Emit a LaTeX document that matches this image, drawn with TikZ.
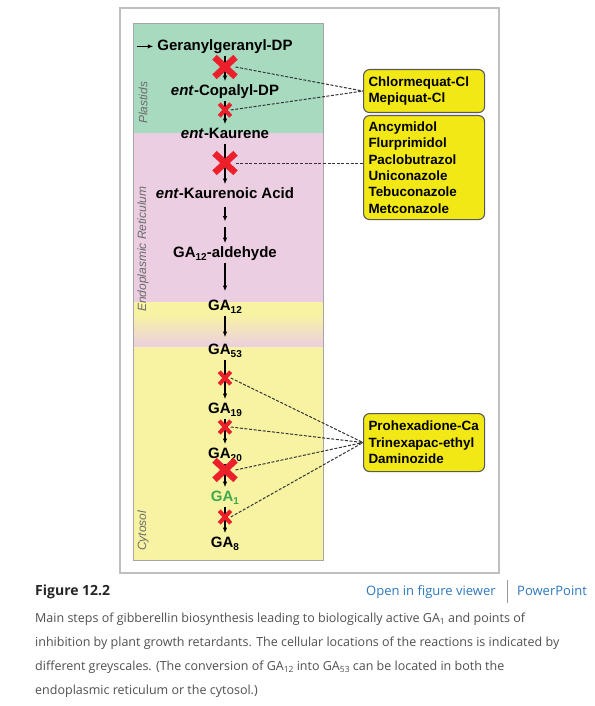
\documentclass[tikz,border=0pt]{standalone}
\usepackage{fontspec}
\setmainfont{Liberation Sans}
\newfontfamily\capfont{Open Sans}
\usetikzlibrary{arrows.meta,shapes.misc}
\definecolor{plastgreen}{RGB}{168,218,192}
\definecolor{erpink}{RGB}{236,206,226}
\definecolor{cytoyellow}{RGB}{248,243,162}
\definecolor{boxyellow}{RGB}{242,232,22}
\definecolor{blockred}{RGB}{235,32,42}
\definecolor{gagreen}{RGB}{62,168,76}
\definecolor{linkblue}{RGB}{45,120,190}
\definecolor{captext}{RGB}{80,80,80}
\newcommand\gasub[1]{\raisebox{-3pt}{\fontsize{10}{12}\selectfont #1}}
\newcommand\capsub[1]{\raisebox{-1.5pt}{\fontsize{8.5}{9}\selectfont #1}}
\tikzset{
  compound/.style={font=\fontsize{15}{18}\selectfont\bfseries, inner sep=0pt, text height=11pt, text depth=3pt, anchor=base},
  conv/.style={-{Latex[length=5.5pt,width=4.5pt]}, line width=1.1pt, shorten <=2pt, shorten >=3pt},
  bigblock/.style={cross out, draw=blockred, line width=6.5pt, minimum width=14.5pt, minimum height=13pt, inner sep=0pt},
  smallblock/.style={cross out, draw=blockred, line width=4pt, minimum width=7.5pt, minimum height=8.5pt, inner sep=0pt},
  inhib/.style={dash pattern=on 3pt off 1.6pt, line width=1pt, draw=black!80},
  retardant/.style={draw=black!65, line width=1.1pt, fill=boxyellow, rounded corners=6pt, anchor=north west, minimum width=121pt, text width=111pt, inner xsep=5pt, align=left, font=\fontsize{13.4}{16.4}\selectfont\bfseries},
  compartment/.style={font=\fontsize{12}{14}\selectfont\itshape, text=black!58, rotate=90, anchor=west, inner sep=0pt},
  weblink/.style={anchor=base west, font=\capfont\fontsize{13}{15}\selectfont, text=linkblue, inner sep=0pt}
}
\begin{document}
\begin{tikzpicture}[x=1pt, y=-1pt]
\useasboundingbox (0,0) rectangle (594,706);
\fill[white] (0,0) rectangle (594,706);
\draw[black!25, line width=1.2pt] (120,8) rectangle (499,573);
\fill[plastgreen] (133,23) rectangle (323,133);
\fill[erpink] (133,133) rectangle (323,302);
\fill[cytoyellow] (133,302) rectangle (323,314);
\shade[top color=cytoyellow, bottom color=erpink] (133,314) rectangle (323,347);
\fill[cytoyellow] (133,347) rectangle (323,560);
\draw[black!35, line width=0.6pt] (133,23) rectangle (323,560);

\node[compartment] (plast) at (143,124) {Plastids};
\node[compartment] (er) at (143,312) {Endoplasmic Reticulum};
\node[compartment] (cyto) at (143,551) {Cytosol};

\node[compound] (ggdp) at (225,50.4) {Geranylgeranyl-DP};
\node[compound] (cpp) at (225,95.4) {\textit{ent}-Copalyl-DP};
\node[compound] (kaur) at (225,138.4) {\textit{ent}-Kaurene};
\node[compound] (kacid) at (225,198.4) {\textit{ent}-Kaurenoic Acid};
\node[compound] (ald) at (225,257.4) {GA\gasub{12}-aldehyde};
\node[compound] (ga12) at (225,310.4) {GA\gasub{12}};
\node[compound] (ga53) at (225,354.4) {GA\gasub{53}};
\node[compound] (ga19) at (225,413.4) {GA\gasub{19}};
\node[compound] (ga20) at (225,458.4) {GA\gasub{20}};
\node[compound, text=gagreen] (ga1) at (225,501.4) {GA\gasub{1}};
\node[compound] (ga8) at (225,547.4) {GA\gasub{8}};

\coordinate (ggin) at (137,46.4);
\coordinate (kmid) at (225,224.5);
\draw[conv, shorten <=0pt, shorten >=4pt] (ggin) -- (ggin -| ggdp.west);
\draw[conv] (ggdp.south) -- (cpp.north);
\draw[conv] (cpp.south) -- (kaur.north);
\draw[conv] (kaur.south) -- (kacid.north);
\draw[conv, shorten <=5pt] (kacid.south) -- (kmid);
\draw[conv, shorten <=2.5pt] (kmid) -- (ald.north);
\draw[conv, shorten >=8pt] (ald.south) -- (ga12.north);
\draw[conv, shorten >=6pt] (ga12.south) -- (ga53.north);
\draw[conv] (ga53.south) -- (ga19.north);
\draw[conv] (ga19.south) -- (ga20.north);
\draw[conv] (ga20.south) -- (ga1.north);
\draw[conv] (ga1.south) -- (ga8.north);

\node[bigblock] (b1) at (225,67) {};
\node[smallblock] (b2) at (225,110) {};
\node[bigblock] (b3) at (225,163) {};
\node[smallblock] (b4) at (225,378) {};
\node[smallblock] (b5) at (225,427) {};
\node[bigblock] (b6) at (225,470) {};
\node[smallblock] (b7) at (225,517) {};

\node[retardant, minimum height=43pt] (chlor) at (363,69) {Chlormequat-Cl\\Mepiquat-Cl};
\node[retardant, minimum height=104pt] (ancy) at (363,115) {Ancymidol\\Flurprimidol\\Paclobutrazol\\Uniconazole\\Tebuconazole\\Metconazole};
\node[retardant, minimum height=58pt] (prohex) at (363,413) {Prohexadione-Ca\\Trinexapac-ethyl\\Daminozide};

\draw[inhib] (b1.east) -- (chlor.west);
\draw[inhib] (b2.east) -- (chlor.west);
\draw[inhib] (b3.east) -- (b3 -| ancy.west);
\draw[inhib] (b4.east) -- (prohex.west);
\draw[inhib] (b5.east) -- (prohex.west);
\draw[inhib] (b6.east) -- (prohex.west);
\draw[inhib] (b7.east) -- (prohex.west);

\node[anchor=base west, font=\capfont\fontsize{14}{16}\selectfont\bfseries, text=black!85, inner sep=0pt] (figno) at (35,595) {Figure 12.2};
\node[weblink] (viewer) at (366,595) {Open in figure viewer};
\node[weblink] (ppt) at (517,595) {PowerPoint};
\draw[black!40] (507,580) -- (507,603);
\node[anchor=north west, align=left, font=\capfont\fontsize{12.5}{24}\selectfont, text=captext, inner sep=0pt] (legend) at (35,613) {Main steps of gibberellin biosynthesis leading to biologically active GA\capsub{1} and points of\\inhibition by plant growth retardants. The cellular locations of the reactions is indicated by\\different greyscales. (The conversion of GA\capsub{12} into GA\capsub{53} can be located in both the\\endoplasmic reticulum or the cytosol.)};
\end{tikzpicture}
\end{document}
